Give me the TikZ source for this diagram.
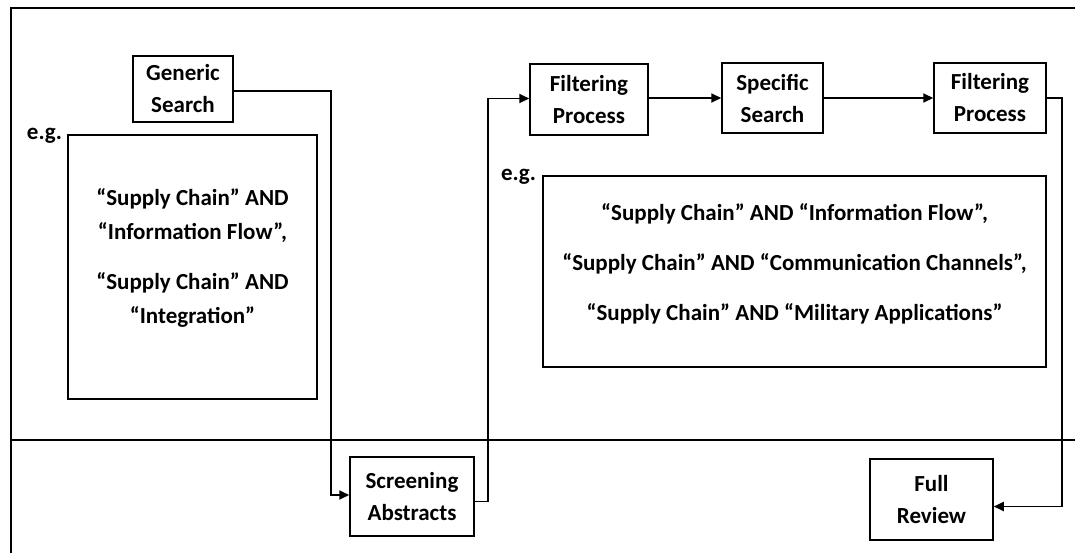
\documentclass[tikz,border=0pt]{standalone}
\usepackage{fontspec}
\setmainfont{Carlito}
\usetikzlibrary{arrows.meta,calc}
\begin{document}
\begin{tikzpicture}[x=1pt,y=-1pt,
  every node/.style={font=\bfseries\fontsize{23}{32}\selectfont},
  stepbox/.style={draw,line width=1.5pt,align=center,inner sep=0pt},
  egbox/.style={draw,line width=1.5pt,inner sep=0pt},
  egtext/.style={align=center,inner sep=0pt},
  flow/.style={line width=1.8pt,-{Triangle[length=10pt,width=9pt]}},
  frame/.style={line width=2.4pt}]
\useasboundingbox (0,0) rectangle (1075,552);

% outer frame and divider between the two phases
\draw[frame] (1080,8) -- (11,8) -- (11,560);
\draw[frame] (11,440) -- (1080,440);

% process steps
\node[stepbox,minimum width=100pt,minimum height=66pt] (gs) at (183,89) {Generic\\Search};
\node[stepbox,minimum width=118pt,minimum height=71pt] (fp1) at (589,99.5) {Filtering\\Process};
\node[stepbox,minimum width=101pt,minimum height=70pt] (ss) at (772.5,98) {Specific\\Search};
\node[stepbox,minimum width=112pt,minimum height=70pt] (fp2) at (990,98) {Filtering\\Process};
\node[stepbox,minimum width=124pt,minimum height=79pt] (sa) at (412,496.5) {Screening\\Abstracts};
\node[stepbox,minimum width=123pt,minimum height=81pt] (fr) at (931.5,499.5) {Full\\Review};

% example search strings
\node[egbox,minimum width=249pt,minimum height=264pt] (eg1) at (192.5,267) {};
\node[egtext,font=\bfseries\fontsize{23}{34}\selectfont] (t1) at ([yshift=9pt]eg1.center)
  {“Supply Chain” AND\\“Information Flow”,\\[16pt]“Supply Chain” AND\\“Integration”};
\node[anchor=base east,inner sep=0pt] (e1) at ([xshift=-5pt,yshift=-5pt]eg1.north west) {e.g.};

\node[egbox,minimum width=503pt,minimum height=191pt] (eg2) at (794.5,271.5) {};
\node[egtext,font=\bfseries\fontsize{23}{50}\selectfont] (t2) at ([yshift=8pt]eg2.center)
  {“Supply Chain” AND “Information Flow”,\\“Supply Chain” AND “Communication Channels”,\\“Supply Chain” AND “Military Applications”};
\node[anchor=base east,inner sep=0pt] (e2) at ([xshift=-6pt,yshift=-5pt]eg2.north west) {e.g.};

% turning points of the connectors
\coordinate (c1) at (331,495);
\coordinate (c2) at (488,98.5);
\coordinate (c3) at (1062,300);

% connectors
\draw[flow] ([yshift=-2pt]gs.east) -| (c1) -- (sa.west |- c1);
\draw[flow] ([yshift=-5pt]sa.east) -| (c2) -- (fp1.west |- c2);
\draw[flow] (fp1.east |- ss.west) -- (ss.west);
\draw[flow] (ss.east) -- (fp2.west);
\draw[flow] (fp2.east) -| (c3) |- ([yshift=-7pt]fr.east);
\end{tikzpicture}
\end{document}
